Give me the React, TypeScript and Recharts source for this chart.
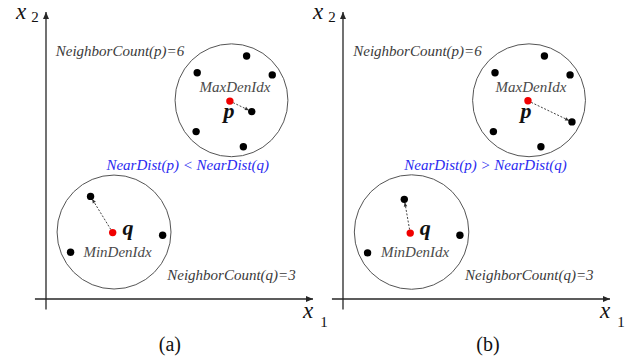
import React from 'react';
import { ScatterChart, Scatter, XAxis, YAxis, ReferenceLine, ReferenceDot } from 'recharts';

// ---------- data (units: x1 / x2 coordinates of each panel) ----------
const panelACircles = [
  { x: 6.87, y: 7.36, r: 2.09 },
  { x: 2.52, y: 2.48, r: 2.11 },
];
const panelACenters = [
  { x: 6.81, y: 7.33, name: 'p' },
  { x: 2.47, y: 2.46, name: 'q' },
];
const panelANeighbors = [
  { x: 7.43, y: 9.0 }, { x: 5.6, y: 8.38 }, { x: 8.38, y: 8.3 },
  { x: 7.62, y: 6.94 }, { x: 5.56, y: 6.2 }, { x: 7.31, y: 5.64 },
  { x: 1.65, y: 3.8 }, { x: 4.32, y: 2.36 }, { x: 0.91, y: 1.73 },
];
const panelALinks = [
  [{ x: 6.81, y: 7.33 }, { x: 7.62, y: 6.94 }],
  [{ x: 2.47, y: 2.46 }, { x: 1.65, y: 3.8 }],
];
const panelACountLabels = [
  { x: 2.74, y: 9.0, text: 'NeighborCount(p)=6' },
  { x: 6.87, y: 0.69, text: 'NeighborCount(q)=3' },
];
const panelAIdxLabels = [
  { x: 7.0, y: 7.65, text: 'MaxDenIdx' },
  { x: 2.65, y: 1.56, text: 'MinDenIdx' },
];
const panelAPointLabels = [
  { x: 6.78, y: 6.7, text: 'p' },
  { x: 3.04, y: 2.37, text: 'q' },
];
const panelARelation = [{ x: 5.25, y: 4.78, text: 'NearDist(p) < NearDist(q)' }];
const panelACaption = [{ x: 4.59, y: -1.93, text: '(a)' }];

const panelBCircles = [
  { x: 6.89, y: 7.36, r: 2.09 },
  { x: 2.54, y: 2.48, r: 2.12 },
];
const panelBCenters = [
  { x: 6.85, y: 7.34, name: 'p' },
  { x: 2.49, y: 2.44, name: 'q' },
];
const panelBNeighbors = [
  { x: 7.46, y: 9.0 }, { x: 5.63, y: 8.38 }, { x: 8.41, y: 8.3 },
  { x: 8.48, y: 6.56 }, { x: 5.57, y: 6.2 }, { x: 7.33, y: 5.64 },
  { x: 2.27, y: 3.69 }, { x: 4.33, y: 2.36 }, { x: 0.91, y: 1.71 },
];
const panelBLinks = [
  [{ x: 6.85, y: 7.34 }, { x: 8.48, y: 6.56 }],
  [{ x: 2.49, y: 2.44 }, { x: 2.27, y: 3.69 }],
];
const panelBCountLabels = [
  { x: 2.76, y: 9.0, text: 'NeighborCount(p)=6' },
  { x: 6.9, y: 0.69, text: 'NeighborCount(q)=3' },
];
const panelBIdxLabels = [
  { x: 6.96, y: 7.65, text: 'MaxDenIdx' },
  { x: 2.67, y: 1.56, text: 'MinDenIdx' },
];
const panelBPointLabels = [
  { x: 6.78, y: 6.7, text: 'p' },
  { x: 3.05, y: 2.37, text: 'q' },
];
const panelBRelation = [{ x: 5.28, y: 4.78, text: 'NearDist(p) > NearDist(q)' }];
const panelBCaption = [{ x: 5.37, y: -1.93, text: '(b)' }];

// axes of the feature space (shared)
const x1Axis = [{ x: -0.41, y: 0 }, { x: 9.89, y: 0 }];
const x2Axis = [{ x: 0, y: -0.39 }, { x: 0, y: 10.63 }];
const x2Label = [{ x: -1.11, y: 10.37, text: 'x', sub: '2' }];
const x1Label = [{ x: 9.52, y: -0.7, text: 'x', sub: '1' }];

// ---------- layout ----------
const PX = 27;
const W = 330;
const H = 364;
const OX = 46;
const OY = 299;
const FONT = '"Times New Roman", "Liberation Serif", serif';
const INK = '#262626';
const LABEL = '#3a3a3a';

const headPoints = (x1: number, y1: number, x2: number, y2: number, len: number, half: number) => {
  const dx = x2 - x1;
  const dy = y2 - y1;
  const L = Math.hypot(dx, dy) || 1;
  const ux = dx / L;
  const uy = dy / L;
  const bx = x2 - ux * len;
  const by = y2 - uy * len;
  return `${x2},${y2} ${bx - uy * half},${by + ux * half} ${bx + uy * half},${by - ux * half}`;
};

const AxisArrow = (props: any) => {
  const { x1, y1, x2, y2 } = props;
  return (
    <g>
      <line x1={x1} y1={y1} x2={x2} y2={y2} stroke={INK} strokeWidth={1.3} />
      <polygon points={headPoints(x1, y1, x2, y2, 7, 3)} fill={INK} />
    </g>
  );
};

const DashArrow = (props: any) => {
  const { x1, y1, x2, y2 } = props;
  const dx = x2 - x1;
  const dy = y2 - y1;
  const L = Math.hypot(dx, dy) || 1;
  const ex = x2 - (dx / L) * 3.2;
  const ey = y2 - (dy / L) * 3.2;
  return (
    <g>
      <line x1={x1} y1={y1} x2={ex} y2={ey} stroke="#444" strokeWidth={1} strokeDasharray="2 1.6" />
      <polygon points={headPoints(x1, y1, ex, ey, 4, 1.8)} fill="#333" />
    </g>
  );
};

const textShape = (style: any) => (props: any) => (
  <text x={props.cx} y={props.cy} textAnchor="middle" style={{ fontFamily: FONT, ...style }}>
    {props.payload.text}
  </text>
);

const countShape = textShape({ fontSize: 15, fontStyle: 'italic', fill: LABEL });
const idxShape = textShape({ fontSize: 15, fontStyle: 'italic', fill: '#4a4a4a' });
const pointShape = textShape({ fontSize: 22, fontStyle: 'italic', fontWeight: 'bold', fill: '#111' });
const relShape = textShape({ fontSize: 15, fontStyle: 'italic', fill: '#2b2bf0' });
const captionShape = textShape({ fontSize: 20, fill: '#111' });

const axisLabelShape = (dx: number, dy: number) => (props: any) => (
  <text x={props.cx} y={props.cy} textAnchor="start" style={{ fontFamily: FONT, fill: '#111' }}>
    <tspan style={{ fontSize: 23, fontStyle: 'italic' }}>{props.payload.text}</tspan>
    <tspan dx={dx} dy={dy} style={{ fontSize: 15 }}>{props.payload.sub}</tspan>
  </text>
);
const x2Shape = axisLabelShape(5, 3);
const x1Shape = axisLabelShape(7, 9);

const blackDot = (props: any) => <circle cx={props.cx} cy={props.cy} r={3.7} fill="#000" />;
const redDot = (props: any) => <circle cx={props.cx} cy={props.cy} r={3.7} fill="#f00000" />;

type PanelProps = {
  left: number;
  circles: any[];
  centers: any[];
  neighbors: any[];
  links: any[][];
  countLabels: any[];
  idxLabels: any[];
  pointLabels: any[];
  relation: any[];
  caption: any[];
};

const Panel = (p: PanelProps) => (
  <div style={{ position: 'absolute', left: p.left, top: 0 }}>
    <ScatterChart width={W} height={H} margin={{ top: 0, right: 0, bottom: 0, left: 0 }}>
      <XAxis type="number" dataKey="x" hide domain={[-OX / PX, (W - OX) / PX]} allowDataOverflow />
      <YAxis type="number" dataKey="y" hide domain={[-(H - OY) / PX, OY / PX]} allowDataOverflow />
      <ReferenceLine segment={x1Axis} shape={AxisArrow} ifOverflow="visible" />
      <ReferenceLine segment={x2Axis} shape={AxisArrow} ifOverflow="visible" />
      {p.circles.map((c, i) => (
        <ReferenceDot key={'c' + i} x={c.x} y={c.y} r={c.r * PX} fill="none" stroke="#555" strokeWidth={1} ifOverflow="visible" />
      ))}
      {p.links.map((l, i) => (
        <ReferenceLine key={'l' + i} segment={l} shape={DashArrow} ifOverflow="visible" />
      ))}
      <Scatter data={p.neighbors} shape={blackDot} isAnimationActive={false} />
      <Scatter data={p.centers} shape={redDot} isAnimationActive={false} />
      <Scatter data={p.countLabels} shape={countShape} isAnimationActive={false} />
      <Scatter data={p.idxLabels} shape={idxShape} isAnimationActive={false} />
      <Scatter data={p.pointLabels} shape={pointShape} isAnimationActive={false} />
      <Scatter data={p.relation} shape={relShape} isAnimationActive={false} />
      <Scatter data={p.caption} shape={captionShape} isAnimationActive={false} />
      <Scatter data={x2Label} shape={x2Shape} isAnimationActive={false} />
      <Scatter data={x1Label} shape={x1Shape} isAnimationActive={false} />
    </ScatterChart>
  </div>
);

export default function App() {
  return (
    <div style={{ position: 'absolute', left: 0, top: 0, width: 636, height: 364, background: '#fff', overflow: 'hidden' }}>
      <Panel
        left={0}
        circles={panelACircles}
        centers={panelACenters}
        neighbors={panelANeighbors}
        links={panelALinks}
        countLabels={panelACountLabels}
        idxLabels={panelAIdxLabels}
        pointLabels={panelAPointLabels}
        relation={panelARelation}
        caption={panelACaption}
      />
      <Panel
        left={297}
        circles={panelBCircles}
        centers={panelBCenters}
        neighbors={panelBNeighbors}
        links={panelBLinks}
        countLabels={panelBCountLabels}
        idxLabels={panelBIdxLabels}
        pointLabels={panelBPointLabels}
        relation={panelBRelation}
        caption={panelBCaption}
      />
    </div>
  );
}
